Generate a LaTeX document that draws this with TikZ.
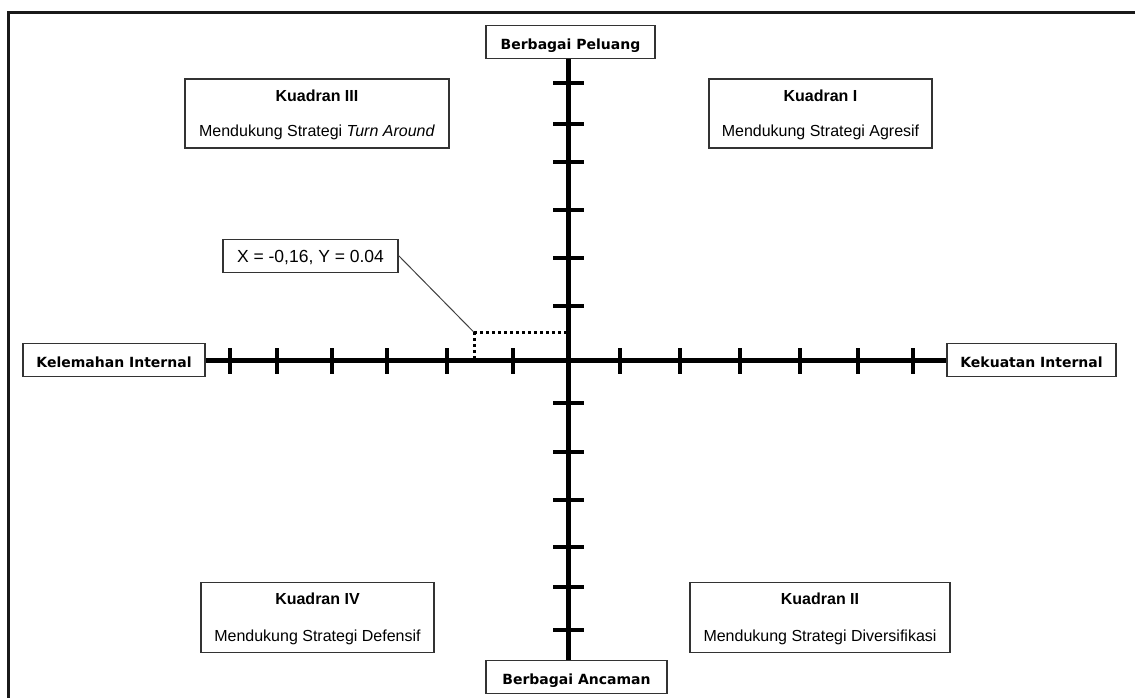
\documentclass[tikz,border=0pt]{standalone}
\usepackage{fontspec}
\setmainfont{Liberation Sans}
\newfontfamily\axisfont{DejaVu Sans}
\begin{document}
\begin{tikzpicture}[x=1pt,y=-1pt,
  framel/.style={line width=2.7pt,draw=black!90},
  axislab/.style={draw=black!80,line width=1.2pt,fill=white,inner sep=0pt,
    minimum height=33,text height=14pt,text depth=0pt,
    font=\axisfont\bfseries\fontsize{14}{16}\selectfont},
  qbox/.style={draw=black!80,line width=1.2pt,inner sep=0pt,minimum height=69},
  qtitle/.style={anchor=base,inner sep=0pt,font=\bfseries\fontsize{16}{18}\selectfont},
  qtext/.style={anchor=base,inner sep=0pt,font=\fontsize{16}{18}\selectfont},
  axisline/.style={line width=4.5pt},
  tickmark/.style={line width=3.8pt},
  dotline/.style={line width=3pt,dash pattern=on 3pt off 3pt},
  leader/.style={line width=1pt,draw=black!75}
]
\useasboundingbox (0,0) rectangle (1135,698);
% frame (top and left edges visible)
\coordinate (fbl) at (8.7,700);
\coordinate (ftl) at (8.7,12.2);
\coordinate (ftr) at (1137,12.2);
\draw[framel] (fbl) -- (ftl) -- (ftr);

% axis label boxes
\node[axislab,minimum width=169] (top) at (570.5,42.3) {Berbagai Peluang};
\node[axislab,minimum width=181] (bot) at (576.5,677) {Berbagai Ancaman};
\node[axislab,minimum width=182] (left) at (114,360.3) {Kelemahan Internal};
\node[axislab,minimum width=169] (right) at (1031.5,360.3) {Kekuatan Internal};

\coordinate (O) at (568.7,360.6);
% axes
\draw[axisline] (left.east |- O) -- (right.west |- O);
\draw[axisline] (O |- top.south) -- (O |- bot.north);

% ticks
\foreach \tx in {230,277.3,332,387.3,447.3,513.3,620,680,740,800,858,913}
  \draw[tickmark] (\tx,348) -- (\tx,374);
\foreach \ty in {83.3,124.3,162,210,258,306,403,452,500,547,587.3,630}
  \draw[tickmark] (553,\ty) -- (584,\ty);

% quadrant boxes
\node[qbox,minimum width=264] (q3) at (317,113.5) {};
\node[qtitle] (q3t) at (317,101.7) {Kuadran III};
\node[qtext] (q3s) at (317,136.5) {Mendukung Strategi \textit{Turn Around}};

\node[qbox,minimum width=223] (q1) at (820.5,113.5) {};
\node[qtitle] (q1t) at (820.5,101.7) {Kuadran I};
\node[qtext] (q1s) at (820.5,136.5) {Mendukung Strategi Agresif};

\node[qbox,minimum width=233,minimum height=70] (q4) at (317.5,617.7) {};
\node[qtitle] (q4t) at (317.5,604.3) {Kuadran IV};
\node[qtext] (q4s) at (317.5,641.7) {Mendukung Strategi Defensif};

\node[qbox,minimum width=260,minimum height=70] (q2) at (820,617.7) {};
\node[qtitle] (q2t) at (820,604.3) {Kuadran II};
\node[qtext] (q2s) at (820,641.7) {Mendukung Strategi Diversifikasi};

% point label
\node[draw=black!80,line width=1.2pt,fill=white,inner sep=0pt,minimum width=175,
  minimum height=33,text height=13pt,text depth=0pt,
  font=\fontsize{17.5}{20}\selectfont] (pt) at (310.5,255.6) {X = -0,16, Y = 0.04};

\coordinate (P) at (474,332.3);
\draw[leader] (pt.east) -- (P);
\draw[dotline] (P) -- (O |- P);
\draw[dotline] (P) -- (P |- O);
\end{tikzpicture}
\end{document}
